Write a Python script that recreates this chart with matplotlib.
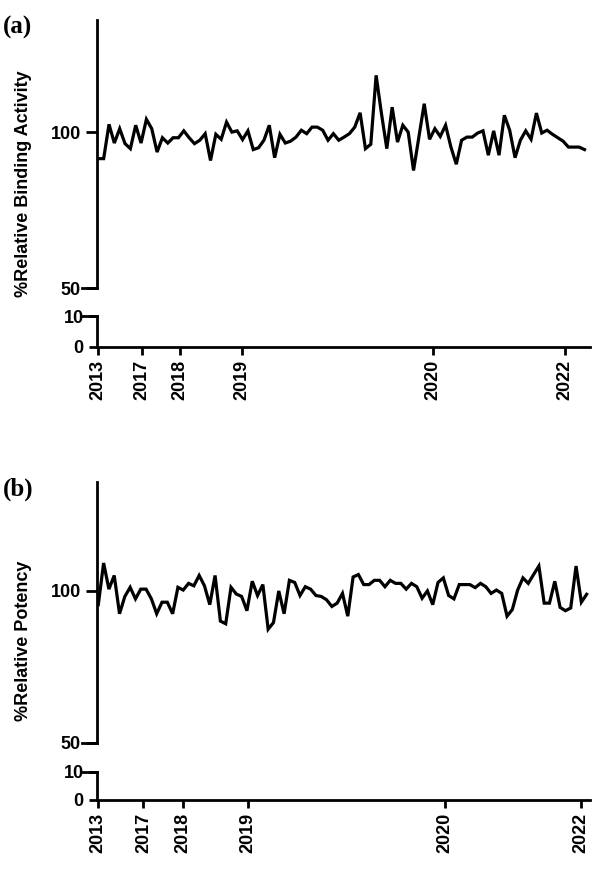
import numpy as np
from matplotlib import pyplot as plt

# panel (a) %relative binding activity
binding = [91.6, 91.6, 102.6, 96.6, 101.2, 96.4, 94.8, 102.3, 96.6, 104.2,
           101.2, 93.7, 98.3, 96.6, 98.3, 98.3, 100.5, 98.3, 96.4, 97.5,
           99.6, 91.0, 99.4, 97.8, 103.3, 100.1, 100.5, 97.7, 100.5, 94.5,
           95.1, 97.5, 102.3, 91.9, 99.4, 96.6, 97.2, 98.5, 100.7, 99.6,
           101.7, 101.7, 100.7, 97.5, 99.6, 97.5, 98.5, 99.6, 101.7, 106.3,
           94.8, 96.2, 118.3, 106.0, 94.8, 108.1, 96.9, 102.3, 100.1, 87.8,
           98.5, 109.2, 97.8, 101.2, 98.7, 102.3, 95.3, 89.8, 97.5, 98.5,
           98.5, 99.8, 100.5, 92.7, 100.5, 92.7, 105.5, 100.7, 91.9, 97.5,
           100.5, 97.8, 106.2, 99.8, 100.7, 99.4, 98.3, 97.2, 95.3, 95.3,
           95.3, 94.5]
# panel (b) %relative potency
potency = [95.5, 109.2, 100.6, 105.1, 92.5, 98.2, 101.2, 97.4, 100.6, 100.6,
           97.4, 92.5, 96.3, 96.3, 92.5, 101.2, 100.3, 102.5, 101.7, 105.1,
           101.7, 95.5, 105.1, 90.1, 89.2, 101.2, 99.0, 98.2, 93.5, 103.2,
           98.5, 102.1, 87.4, 89.6, 100.0, 92.5, 103.5, 102.8, 98.5, 101.4,
           100.6, 98.5, 98.2, 97.1, 94.9, 96.0, 99.2, 91.7, 104.6, 105.4,
           102.1, 102.1, 103.5, 103.5, 101.4, 103.5, 102.5, 102.5, 100.6, 102.5,
           101.4, 97.6, 100.0, 95.5, 102.8, 104.3, 98.5, 97.4, 102.1, 102.1,
           102.1, 101.1, 102.5, 101.4, 99.2, 100.3, 99.2, 91.7, 93.9, 100.3,
           104.3, 102.5, 105.4, 108.2, 96.0, 96.0, 103.2, 94.6, 93.5, 94.4,
           108.2, 96.3, 98.9]

years = ['2013', '2017', '2018', '2019', '2020', '2022']
tick_a = [0, 8.1, 15.2, 26.9, 62.7, 87.4]
tick_b = [0, 8.5, 15.9, 28.2, 65.3, 90.9]

fig = plt.figure(figsize=(5.97, 8.74), dpi=100)
sans = 'Liberation Sans'


def panel(top, split, lo_top, lo_bot, data, ticks, xpad, ylabel, tag):
    left, width = 0.162, 0.826
    up = fig.add_axes([left, split, width, top - split])
    low = fig.add_axes([left, lo_bot, width, lo_top - lo_bot])
    x = np.arange(len(data))
    up.plot(x, data, color='black', lw=2.3, solid_joinstyle='miter')
    up.set_ylim(50, 136)
    low.set_ylim(0, 10)
    for a in (up, low):
        a.set_xlim(-0.3, len(data) - 1 + xpad)
        for s in ('top', 'right'):
            a.spines[s].set_visible(False)
        a.spines['left'].set_linewidth(2)
        a.spines['bottom'].set_linewidth(2)
        a.tick_params(width=2, length=6)
    up.spines['bottom'].set_visible(False)
    up.set_xticks([])
    up.set_yticks([50, 100])
    up.tick_params(axis='y', length=8)
    low.set_yticks([0, 10])
    low.set_xticks(ticks)
    low.set_xticklabels(years, rotation=90)
    for a in (up, low):
        for lab in a.get_xticklabels() + a.get_yticklabels():
            lab.set_fontfamily(sans)
            lab.set_fontweight('bold')
            lab.set_fontsize(13)
    # break marks
    up.plot([-0.03, 0.0], [0, 0], transform=up.transAxes, color='black',
            lw=2, clip_on=False)
    low.plot([-0.03, 0.0], [1, 1], transform=low.transAxes, color='black',
             lw=2, clip_on=False)
    fig.text(0.04, (top + lo_bot) / 2, ylabel, rotation=90, ha='center',
             va='center', fontsize=13, fontweight='bold', family=sans)
    fig.text(0.005, top + 0.005, tag, ha='left', va='top', fontsize=18,
             fontweight='bold', family='Liberation Serif')


panel(0.977, 0.670, 0.638, 0.603, binding, tick_a, 1.0,
      '%Relative Binding Activity', '(a)')
panel(0.449, 0.150, 0.117, 0.085, potency, tick_b, 0.6,
      '%Relative Potency', '(b)')

fig.savefig('out.png', dpi=100)
